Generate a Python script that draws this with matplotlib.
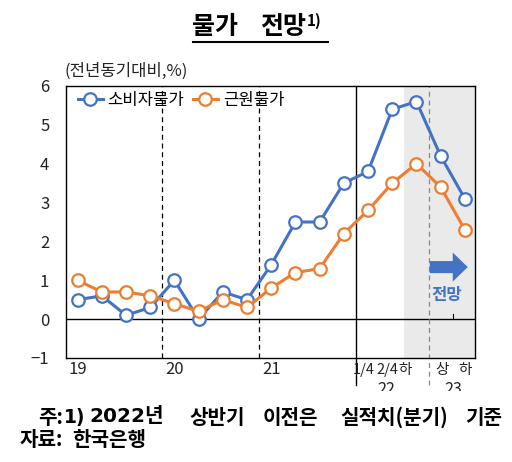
import matplotlib
matplotlib.use("Agg")
import matplotlib.pyplot as plt
from matplotlib.patches import FancyArrow
from matplotlib.transforms import Bbox

plt.rcParams['font.family'] = ['Noto Sans CJK KR', 'DejaVu Sans']
plt.rcParams['axes.unicode_minus'] = True

# data (yoy %, 2019Q1..2022Q2 quarterly, then 22H2, 23H1, 23H2)
cpi = [0.5, 0.6, 0.1, 0.3, 1.0, 0.0, 0.7, 0.5, 1.4, 2.5, 2.5, 3.5, 3.8, 5.4, 5.6, 4.2, 3.1]
core = [1.0, 0.7, 0.7, 0.6, 0.4, 0.2, 0.5, 0.3, 0.8, 1.2, 1.3, 2.2, 2.8, 3.5, 4.0, 3.4, 2.3]
series_names = ['소비자물가', '근원물가']
year_labels = ['19', '20', '21']
year_pos = [0, 4, 8]
sub_labels = ['1/4', '2/4', '하', '상', '하']
sub_pos = [11.82, 12.8, 13.55, 15.05, 16.0]
late_years = ['22', '23']
late_pos = [12.77, 15.5]
yticks = [-1, 0, 1, 2, 3, 4, 5, 6]

BLUE = '#4472C4'
ORANGE = '#ED7D31'
NARROW = ['Liberation Sans Narrow', 'Noto Sans CJK KR', 'DejaVu Sans']
LATIN = ['DejaVu Sans', 'Noto Sans CJK KR']

fig = plt.figure(figsize=(5.12, 4.62), dpi=100)
ax = fig.add_axes([66/512, 1-358/462, (475-66)/512, (358-86)/462])
x = list(range(len(cpi)))

ax.set_xlim(-0.48, 16.42)
ax.set_ylim(-1, 6)

ax.axvspan(13.5, 16.42, color='#eaeaea', zorder=0, lw=0)
ax.axhline(0, color='black', lw=1.0, zorder=1)
for xv in [3.5, 7.5]:
    ax.axvline(xv, color='black', lw=0.9, ls=(0, (4, 3)), zorder=1)
ax.axvline(11.5, ymin=-0.1, ymax=1, color='black', lw=1.0, zorder=1, clip_on=False)
ax.axvline(14.5, ymin=-0.1, ymax=1, color='#888888', lw=0.9, ls=(0, (4, 3)), zorder=1, clip_on=False)
ax.plot([15.5, 15.5], [0, 0.12], color='black', lw=0.8, zorder=1)

ax.plot(x, cpi, color=BLUE, lw=2.2, marker='o', ms=9, mfc='white', mec=BLUE, mew=1.6,
        label=series_names[0], zorder=3)
ax.plot(x, core, color=ORANGE, lw=2.2, marker='o', ms=9, mfc='white', mec=ORANGE, mew=1.6,
        label=series_names[1], zorder=3)

ax.set_yticks(yticks)
ax.set_yticklabels(['−1' if v == -1 else str(v) for v in yticks], fontsize=12, color='#222222')
ax.tick_params(axis='y', length=0, pad=12)
ax.set_xticks([])
for s in ax.spines.values():
    s.set_linewidth(1.0)

leg = ax.legend(loc='upper left', ncol=2, frameon=False, fontsize=12,
                handlelength=1.5, handletextpad=0.3, columnspacing=0.5,
                bbox_to_anchor=(0.0, 1.02), borderaxespad=0.3)

# x labels
for lab, p in zip(year_labels, year_pos):
    ax.text(p, -1.3, lab, ha='center', va='center', fontsize=12, color='#222222')
for lab, p in zip(sub_labels, sub_pos):
    ax.text(p, -1.3, lab, ha='center', va='center', fontsize=10.5, color='#222222',
            family=NARROW)
for lab, p in zip(late_years, late_pos):
    t = ax.text(p, -1.82, lab, ha='center', va='center', fontsize=11.5, color='#222222',
                family=NARROW)
    t.set_clip_on(True)
    t.set_clip_box(Bbox.from_extents(0, 462-391, 512, 462))

# forecast arrow
ax.add_patch(FancyArrow(14.55, 1.34, 0.95, 0, width=0.31, head_width=0.75, head_length=0.62,
                        length_includes_head=False, color=BLUE, lw=0, zorder=4))
ax.text(15.25, 0.62, '전망', color=BLUE, fontsize=12, fontweight='bold', ha='center', va='center')

# y-axis unit
fig.text(64/512, 1-71/462, '(전년동기대비,%)', fontsize=12, ha='left', va='center', color='#222222')

# title
fig.text(215/512, 1-27/462, '물가', fontsize=18, fontweight='bold', ha='center', va='center')
fig.text(283/512, 1-27/462, '전망', fontsize=18, fontweight='bold', ha='center', va='center')
fig.text(307/512, 1-21/462, '1)', fontsize=11, fontweight='bold', ha='left', va='center')
fig.add_artist(plt.Line2D([193/512, 328/512], [1-42/462, 1-42/462], color='black', lw=1.5))

# footnotes
NOTE_Y = 1-417/462
fig.text(38/512, NOTE_Y, '주:', fontsize=14.5, fontweight='bold', ha='left', va='center')
fig.text(64/512, NOTE_Y, '1)', fontsize=13.5, fontweight='bold', ha='left', va='center', family=LATIN)
fig.text(127/512, NOTE_Y, '2022년', fontsize=14.5, fontweight='bold', ha='center', va='center', family=LATIN)
note_words = ['상반기', '이전은', '실적치(분기)', '기준']
note_x = [189, 263, 340, 465]
for w, xx in zip(note_words, note_x):
    fig.text(xx/512, NOTE_Y, w, fontsize=14.5, fontweight='bold', ha='left', va='center')
src_words = ['자료:', '한국은행']
src_x = [20, 72]
for w, xx in zip(src_words, src_x):
    fig.text(xx/512, 1-439/462, w, fontsize=14.5, fontweight='bold', ha='left', va='center')

fig.savefig('out.png', dpi=100)
